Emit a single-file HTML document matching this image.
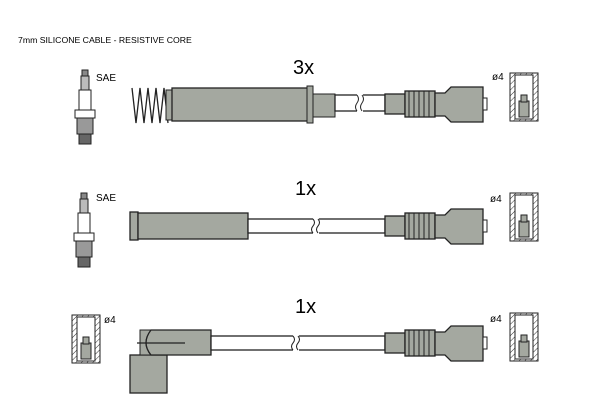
<!DOCTYPE html>
<html><head><style>body{margin:0;background:#fff}svg{display:block}</style></head><body>
<svg width="600" height="400" xmlns="http://www.w3.org/2000/svg" font-family="Liberation Sans, sans-serif">
<defs>
<pattern id="h" width="4" height="4" patternUnits="userSpaceOnUse" patternTransform="rotate(45)"><line x1="0" y1="0" x2="0" y2="4" stroke="#333" stroke-width="1"/></pattern>
<g id="rc">
<rect x="50" y="-10" width="20" height="20" fill="#a4a8a0" stroke="#222" stroke-width="1.3"/>
<rect x="70" y="-13" width="30" height="26" fill="#a4a8a0" stroke="#222" stroke-width="1.3"/>
<path d="M74 -13v26M79 -13v26M84 -13v26M89 -13v26M94 -13v26" stroke="#222"/>
<path d="M100 -11 h10 l6 -6 h32 v35 h-32 l-6 -6 h-10z" fill="#a4a8a0" stroke="#222" stroke-width="1.3"/>
<rect x="148" y="-6" width="4" height="12" fill="#fff" stroke="#222"/>
</g>
<g id="term">
<rect x="0" y="0" width="28" height="48" fill="url(#h)" stroke="#222"/>
<rect x="5" y="2" width="18" height="44" fill="#fff" stroke="#222"/>
<rect x="9" y="28" width="10" height="16" fill="#a4a8a0" stroke="#222"/>
<rect x="11" y="22" width="6" height="7" fill="#a4a8a0" stroke="#222"/>
</g>
<g id="plug">
<rect x="-3" y="0" width="6" height="6" fill="#888" stroke="#222"/>
<rect x="-4" y="6" width="8" height="14" fill="#bbb" stroke="#222"/>
<rect x="-6" y="20" width="12" height="20" fill="#fff" stroke="#222"/>
<rect x="-10" y="40" width="20" height="8" fill="#fff" stroke="#222"/>
<rect x="-8" y="48" width="16" height="16" fill="#999" stroke="#222"/>
<rect x="-6" y="64" width="12" height="10" fill="#666" stroke="#222"/>
</g>
</defs>
<text x="18" y="43" font-size="8.7">7mm SILICONE CABLE - RESISTIVE CORE</text>
<text x="293" y="74" font-size="20">3x</text>
<text x="295" y="195" font-size="20">1x</text>
<text x="295" y="313" font-size="20">1x</text>

<!-- row 1 -->
<use href="#plug" x="85" y="70"/>
<text x="96" y="81" font-size="10">SAE</text>
<path d="M132 88 l4 35 l4 -35 l4 35 l4 -35 l4 35 l4 -35 l4 35 l4 -35 l4 35" fill="none" stroke="#222" stroke-width="1.3"/>
<rect x="166" y="90" width="8" height="30" fill="#a4a8a0" stroke="#222"/>
<rect x="172" y="88" width="136" height="33" fill="#a4a8a0" stroke="#222" stroke-width="1.3"/>
<rect x="307" y="86" width="6" height="37" fill="#a4a8a0" stroke="#222"/>
<rect x="313" y="94" width="22" height="23" fill="#a4a8a0" stroke="#222"/>
<rect x="335" y="95" width="50" height="16" fill="#fff" stroke="#222" stroke-width="1.3"/>
<rect x="357" y="94" width="6" height="18" fill="#fff"/>
<path d="M357 95 q3 4 0 8 q-3 4 0 8 M362 95 q3 4 0 8 q-3 4 0 8" fill="none" stroke="#222"/>
<use href="#rc" x="335" y="104"/>
<text x="492" y="80" font-size="10">ø4</text>
<use href="#term" x="510" y="73"/>

<!-- row 2 -->
<use href="#plug" x="84" y="193"/>
<text x="96" y="201" font-size="10">SAE</text>
<rect x="130" y="212" width="8" height="28" fill="#a4a8a0" stroke="#222" stroke-width="1.3"/>
<rect x="138" y="213" width="110" height="26" fill="#a4a8a0" stroke="#222" stroke-width="1.3"/>
<rect x="248" y="219" width="137" height="14" fill="#fff" stroke="#222" stroke-width="1.3"/>
<rect x="313" y="218" width="6" height="16" fill="#fff"/>
<path d="M313 219 q3 3.5 0 7 q-3 3.5 0 7 M318 219 q3 3.5 0 7 q-3 3.5 0 7" fill="none" stroke="#222"/>
<use href="#rc" x="335" y="226"/>
<text x="490" y="202" font-size="10">ø4</text>
<use href="#term" x="510" y="193"/>

<!-- row 3 -->
<use href="#term" x="72" y="315"/>
<text x="104" y="323" font-size="10">ø4</text>
<rect x="130" y="355" width="37" height="38" fill="#a4a8a0" stroke="#222" stroke-width="1.3"/>
<path d="M140 330 h11 q-10 13 0 25 h-11z" fill="#a4a8a0" stroke="#222"/>
<path d="M151 330 h60 v25 h-60 q-10 -12 0 -25z" fill="#a4a8a0" stroke="#222" stroke-width="1.3"/>
<path d="M137 343 h48" stroke="#222" stroke-width="1.3"/>
<rect x="211" y="336" width="174" height="14" fill="#fff" stroke="#222" stroke-width="1.3"/>
<rect x="293" y="335" width="6" height="16" fill="#fff"/>
<path d="M293 336 q3 3.5 0 7 q-3 3.5 0 7 M298 336 q3 3.5 0 7 q-3 3.5 0 7" fill="none" stroke="#222"/>
<use href="#rc" x="335" y="343"/>
<text x="490" y="322" font-size="10">ø4</text>
<use href="#term" x="510" y="313"/>
</svg>
</body></html>
